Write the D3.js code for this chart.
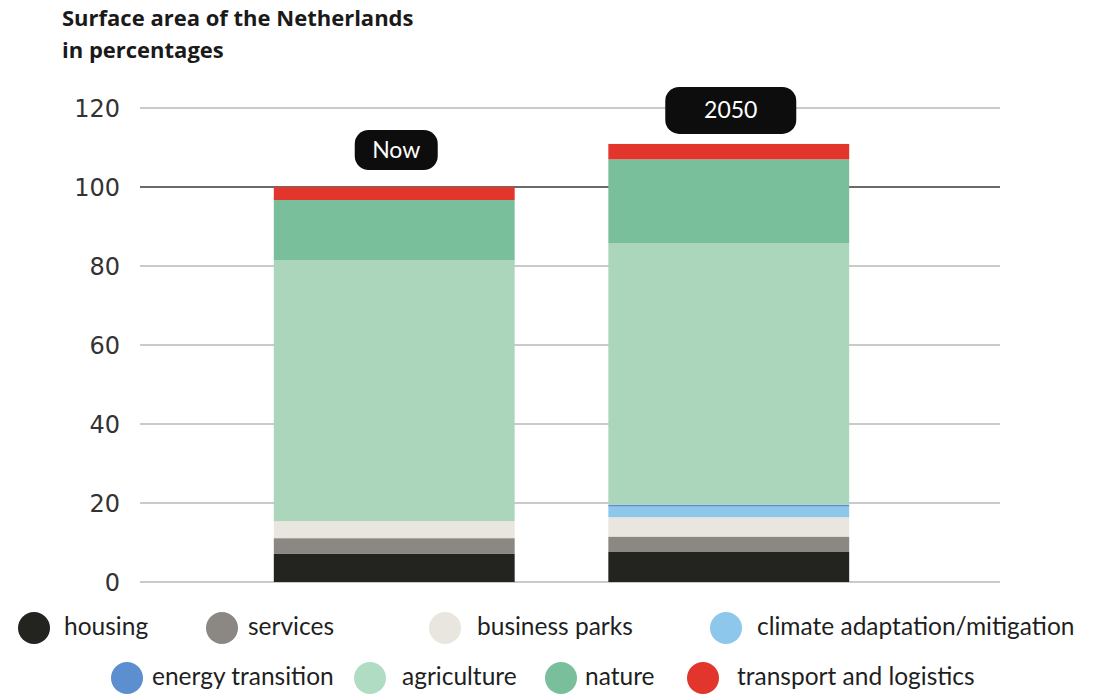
<!DOCTYPE html>
<html>
<head>
<meta charset="utf-8">
<script src="https://cdn.jsdelivr.net/npm/d3@7"></script>
<style>
  html, body { margin: 0; padding: 0; background: #fff; }
  svg { display: block; }
</style>
</head>
<body>
<div id="chart"></div>
<script>
// ── DATA ─────────────────────────────────────
const PERIODS = ['Now', '2050'];
const CATEGORIES = [
  'housing', 'services', 'business parks', 'climate adaptation/mitigation',
  'energy transition', 'agriculture', 'nature', 'transport and logistics'
];
const NOW_VALUES  = [7.1, 4.0, 4.3, 0, 0, 66.0, 15.3, 3.3];
const Y2050_VALUES = [7.6, 3.9, 4.9, 2.7, 0.5, 66.1, 21.3, 3.9];
const Y_TICKS = [0, 20, 40, 60, 80, 100, 120];

// ── COLOURS ──────────────────────────────────
const COLOR = {
  'housing': '#232320',
  'services': '#8b8884',
  'business parks': '#e8e6de',
  'climate adaptation/mitigation': '#8dc8ec',
  'energy transition': '#5b8fd0',
  'agriculture': '#acd6bc',
  'nature': '#79bf9c',
  'transport and logistics': '#e2352c'
};

const W = 1112, H = 696;

const svg = d3.select('#chart').append('svg')
  .attr('width', W).attr('height', H)
  .attr('viewBox', `0 0 ${W} ${H}`);

// ── title
const title = svg.append('text')
  .attr('font-family', 'Open Sans, sans-serif')
  .attr('font-weight', 700)
  .attr('font-size', 22)
  .attr('fill', '#1a1a1a');
title.append('tspan').attr('x', 62).attr('y', 26).text('Surface area of the Netherlands');
title.append('tspan').attr('x', 62).attr('y', 58).text('in percentages');

// ── scales
const y = d3.scaleLinear().domain([0, 120]).range([582, 108]);
const x = d3.scaleBand().domain(PERIODS).range([140, 983])
  .paddingInner(0.28).paddingOuter(0.4);

// ── grid
svg.append('g')
  .selectAll('line')
  .data(Y_TICKS)
  .join('line')
  .attr('x1', 140).attr('x2', 1000)
  .attr('y1', d => y(d)).attr('y2', d => y(d))
  .attr('stroke', d => d === 100 ? '#3a3a3a' : '#b9b9b9')
  .attr('stroke-width', 1.6);

svg.append('g')
  .selectAll('text')
  .data(Y_TICKS)
  .join('text')
  .attr('x', 120)
  .attr('y', d => y(d))
  .attr('dy', '0.36em')
  .attr('text-anchor', 'end')
  .attr('font-family', 'DejaVu Sans, sans-serif')
  .attr('font-size', 24)
  .attr('fill', '#333')
  .text(d => d);

// ── stacks
const rows = PERIODS.map((p, i) => {
  const vals = i === 0 ? NOW_VALUES : Y2050_VALUES;
  const r = { period: p };
  CATEGORIES.forEach((c, j) => { r[c] = vals[j]; });
  return r;
});
const series = d3.stack().keys(CATEGORIES)(rows);

svg.append('g')
  .selectAll('g')
  .data(series)
  .join('g')
  .attr('fill', s => COLOR[s.key])
  .selectAll('rect')
  .data(s => s)
  .join('rect')
  .attr('x', d => x(d.data.period))
  .attr('width', x.bandwidth())
  .attr('y', d => y(d[1]))
  .attr('height', d => Math.max(0, y(d[0]) - y(d[1])));

// ── period pills
const PILLS = [
  { period: 'Now', w: 83, h: 40, gap: 17 },
  { period: '2050', w: 131, h: 47, gap: 10 }
];
PILLS.forEach(p => {
  const total = d3.sum(p.period === 'Now' ? NOW_VALUES : Y2050_VALUES);
  const cx = x(p.period) + x.bandwidth() / 2 + 2;
  const bottom = y(total) - p.gap;
  const g = svg.append('g');
  g.append('rect')
    .attr('x', cx - p.w / 2).attr('y', bottom - p.h)
    .attr('width', p.w).attr('height', p.h)
    .attr('rx', 14)
    .attr('fill', '#0d0d0d');
  g.append('text')
    .attr('x', cx).attr('y', bottom - p.h / 2)
    .attr('dy', '0.35em')
    .attr('text-anchor', 'middle')
    .attr('font-family', 'Lato, sans-serif')
    .attr('font-size', 23)
    .attr('fill', '#fff')
    .text(p.period);
});

// ── legend
const LEGEND_POS = [
  [34, 628, 64], [222, 628, 248], [445, 628, 477], [726, 628, 757],
  [127, 678, 152], [370, 678, 402], [561, 678, 585], [703, 678, 737]
];
const legend = svg.append('g')
  .selectAll('g')
  .data(CATEGORIES)
  .join('g');
legend.append('circle')
  .attr('cx', (d, i) => LEGEND_POS[i][0])
  .attr('cy', (d, i) => LEGEND_POS[i][1])
  .attr('r', 16)
  .attr('fill', d => d === 'agriculture' ? '#b1dcc4' : COLOR[d]);
legend.append('text')
  .attr('x', (d, i) => LEGEND_POS[i][2])
  .attr('y', (d, i) => LEGEND_POS[i][1])
  .attr('dy', '0.3em')
  .attr('font-family', 'Lato, sans-serif')
  .attr('font-size', 24.5)
  .attr('fill', '#1f1f1f')
  .text(d => d);
</script>
</body>
</html>
